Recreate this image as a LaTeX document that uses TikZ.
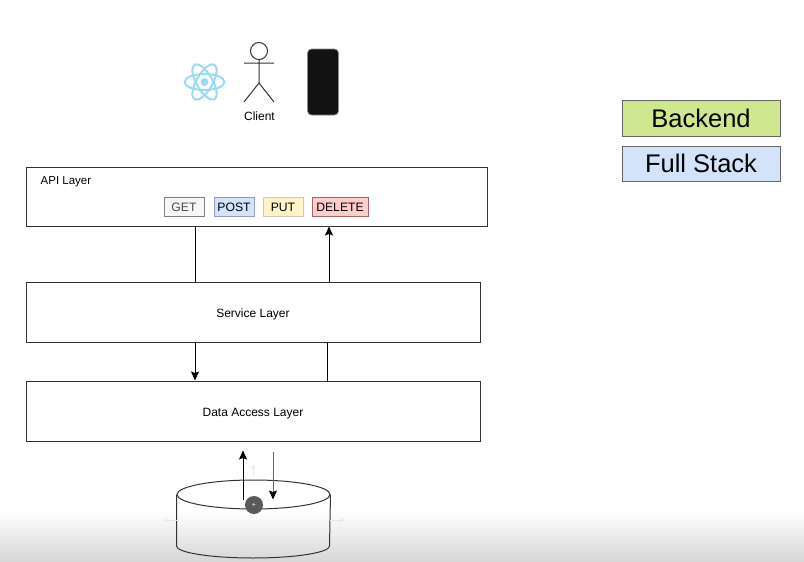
\documentclass[tikz,border=0pt]{standalone}
\usepackage{fontspec}
\setmainfont{Liberation Sans}
\usetikzlibrary{shapes.geometric,arrows.meta}
\definecolor{linegray}{HTML}{333333}
\definecolor{atomblue}{HTML}{9ADAF2}
\definecolor{faintblue}{HTML}{DCEBF5}
\definecolor{backendgreen}{HTML}{CFE88F}
\definecolor{fullblue}{HTML}{D3E3FA}
\tikzset{
  layerbox/.style={draw=linegray, line width=1pt, inner sep=0pt, text height=10pt, text depth=0pt, font=\fontsize{12}{14}\selectfont},
  methodbox/.style={draw, line width=1pt, inner sep=0pt, minimum height=19, text height=9.5pt, text depth=0pt, font=\fontsize{12.2}{14}\selectfont},
  legendbox/.style={draw=black!60, line width=1pt, inner sep=0pt, minimum width=158, text=black},
  flow/.style={line width=1pt, -{Stealth[length=9pt,width=8pt,inset=1.5pt]}},
  plainflow/.style={line width=1pt}
}
\begin{document}
\begin{tikzpicture}[x=1pt,y=-1pt]
  \useasboundingbox (0,0) rectangle (804,562);
  % fade at the bottom edge
  \shade[top color=white, bottom color=black!16, draw=none] (0,510) rectangle (804,562);

  % client row
  \foreach \angle in {0,60,120} {
    \draw[atomblue, line width=2pt, rotate around={\angle:(204.5,82)}] (204.5,82) ellipse (20 and 8);
  }
  \fill[atomblue] (204.5,82) circle (4);
  \node[circle, draw=linegray, line width=1pt, minimum size=17, inner sep=0pt] (head) at (259,51) {};
  \coordinate (hip) at (259,83);
  \coordinate (lhand) at (244,63);
  \coordinate (rhand) at (274,63);
  \coordinate (lfoot) at (244,102);
  \coordinate (rfoot) at (274,102);
  \draw[linegray, line width=1pt] (head) -- (hip) (lhand) -- (rhand) (lfoot) -- (hip) -- (rfoot);
  \node[font=\fontsize{12}{14}\selectfont] (client) at (259.5,116.5) {Client};
  \node[draw=black!45, fill=black!93, rounded corners=4pt, line width=.8pt, minimum width=31, minimum height=66, inner sep=0pt] (phone) at (323,82) {};

  % layers
  \node[layerbox, minimum width=461, minimum height=59] (api) at (256.5,196.5) {};
  \node[anchor=west, inner sep=0pt, font=\fontsize{11.5}{14}\selectfont] (apilabel) at (40.5,181.5) {API Layer};
  \node[layerbox, minimum width=454, minimum height=60] (service) at (253,312) {Service Layer};
  \node[layerbox, minimum width=454, minimum height=60] (data) at (253,411) {Data Access Layer};

  % methods
  \node[methodbox, draw=black!50, fill=black!3, text=black!70, minimum width=40] (get) at (184,206.5) {GET};
  \node[methodbox, draw=blue!30!black!40, fill=fullblue, minimum width=40] (post) at (234,206.5) {POST};
  \node[methodbox, draw=orange!50!black!30, fill=yellow!60!orange!20, minimum width=40] (put) at (283,206.5) {PUT};
  \node[methodbox, draw=red!40!black!60, fill=red!20, minimum width=56] (delete) at (340,206.5) {DELETE};

  % legend
  \node[legendbox, fill=backendgreen, minimum height=36, font=\fontsize{25.5}{30}\selectfont] (backend) at (701,118) {Backend};
  \node[legendbox, fill=fullblue, minimum height=35, font=\fontsize{25.5}{30}\selectfont] (fullstack) at (701,163.5) {Full Stack};

  % database
  \node[ellipse, draw=linegray, line width=1pt, minimum width=153, minimum height=29, inner sep=0pt] (db) at (253.5,494.5) {};
  \draw[linegray, line width=1pt] (db.west) -- ++(0,51.5) arc (180:0:76.5 and 12) -- (db.east);

  % connectors
  \draw[plainflow] ([xshift=-61.5]api.south) -- ([xshift=-58]service.north);
  \draw[flow] ([xshift=76]service.north) -- ([xshift=72.5]api.south);
  \draw[flow] ([xshift=-58]service.south) -- ([xshift=-58]data.north);
  \draw[plainflow] ([xshift=74]data.north) -- ([xshift=74]service.south);
  \draw[flow] ([xshift=-10.5,yshift=-20]db.north) -- ([xshift=-10,yshift=-9]data.south);
  \draw[flow, black!60, -{Stealth[length=9pt,width=8pt,inset=1.5pt,black]}] ([xshift=20,yshift=-10]data.south) -- ([xshift=19.5,yshift=-20]db.north);

  % editor handles
  \node[circle, fill=black!65, minimum size=18, inner sep=0pt, text=white, font=\fontsize{7}{7}\selectfont] (grip) at (254,505) {+};
  \coordinate (topa) at (253,476); \coordinate (topb) at (253,465);
  \coordinate (lefta) at (177,520); \coordinate (leftb) at (163,520);
  \coordinate (righta) at (330,520); \coordinate (rightb) at (344,520);
  \draw[faintblue, line width=1pt, -{Stealth[length=4pt,width=4pt]}] (topa) -- (topb);
  \draw[faintblue, line width=1pt, -{Stealth[length=4pt,width=4pt]}] (lefta) -- (leftb);
  \draw[faintblue, line width=1pt, -{Stealth[length=4pt,width=4pt]}] (righta) -- (rightb);
\end{tikzpicture}
\end{document}
